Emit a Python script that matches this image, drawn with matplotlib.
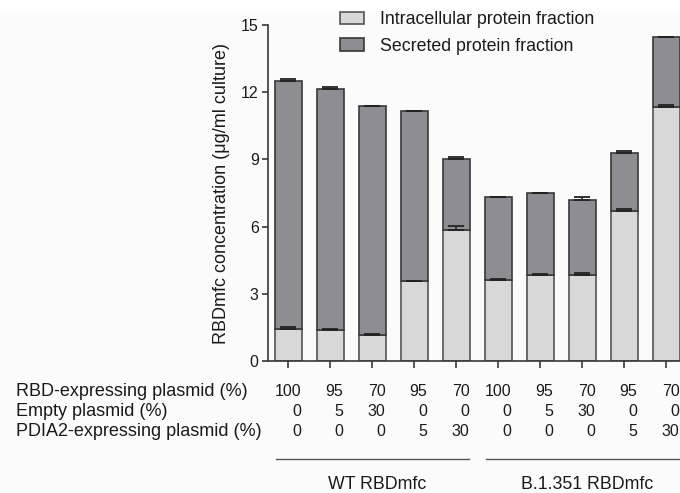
import matplotlib
matplotlib.use("Agg")
import matplotlib.pyplot as plt
import matplotlib.transforms as mtransforms
from matplotlib.patches import Rectangle
from matplotlib.lines import Line2D
import numpy as np

plt.rcParams['font.family'] = ['Liberation Sans', 'DejaVu Sans']

# ---- data ----
intracellular = [1.45, 1.38, 1.17, 3.56, 5.84, 3.62, 3.82, 3.82, 6.69, 11.33]
total = [12.51, 12.13, 11.38, 11.16, 9.00, 7.30, 7.48, 7.19, 9.27, 14.46]
secreted = [t - i for t, i in zip(total, intracellular)]
intra_err = [0.05, 0.04, 0.04, 0.03, 0.20, 0.03, 0.05, 0.09, 0.09, 0.08]
total_err = [0.06, 0.08, 0.02, 0.02, 0.09, 0.02, 0.02, 0.11, 0.12, 0.02]

rbd_pct = ["100", "95", "70", "95", "70", "100", "95", "70", "95", "70"]
empty_pct = ["0", "5", "30", "0", "0", "0", "5", "30", "0", "0"]
pdia_pct = ["0", "0", "0", "5", "30", "0", "0", "0", "5", "30"]
row_labels = ["RBD-expressing plasmid (%)", "Empty plasmid (%)", "PDIA2-expressing plasmid (%)"]
groups = ["WT RBDmfc", "B.1.351 RBDmfc"]
group_spans = [(0, 4), (5, 9)]
legend_labels = ["Intracellular protein fraction", "Secreted protein fraction"]
yticks = [0, 3, 6, 9, 12, 15]

light = "#d8d8d8"
dark = "#8e8d93"
edge = "#383838"

W, H = 680, 493
fig = plt.figure(figsize=(6.8, 4.93), dpi=100, facecolor="#fbfbfb")
ax = fig.add_axes([267.7 / W, 132 / H, (687.5 - 267.7) / W, 336 / H])
ax.set_facecolor("#fbfbfb")

x = np.arange(len(intracellular))
bw = 0.65
ax.bar(x, intracellular, bw, color=light, edgecolor="#555555", linewidth=1.2, zorder=2)
ax.bar(x, secreted, bw, bottom=intracellular, color=dark, edgecolor=edge, linewidth=1.2, zorder=2)

ax.errorbar(x, intracellular, yerr=[np.zeros(len(x)), intra_err], fmt="none",
            ecolor="#222222", elinewidth=1.1, capsize=6, capthick=1.3, zorder=3)
ax.errorbar(x, total, yerr=[np.zeros(len(x)), total_err], fmt="none",
            ecolor="#222222", elinewidth=1.1, capsize=6, capthick=1.3, zorder=3)

ax.set_xlim(-0.495, 9.5)
ax.set_ylim(0, 15)
ax.set_yticks(yticks)
ax.set_yticklabels([str(v) for v in yticks], fontsize=11.5)
ax.set_xticks(x)
ax.set_xticklabels([])
for s in ["top", "right"]:
    ax.spines[s].set_visible(False)
for s in ["left", "bottom"]:
    ax.spines[s].set_color(edge)
    ax.spines[s].set_linewidth(1.2)
ax.tick_params(axis="y", direction="out", length=4, width=1.2, color=edge, pad=2.5, labelcolor="#1a1a1a")
ax.tick_params(axis="x", direction="out", length=5, width=1.2, color=edge)

ax.set_ylabel("RBDmfc concentration (μg/ml culture)", fontsize=13, color="#1a1a1a")
ax.yaxis.set_label_coords(-(267.7 - 230) / (687.5 - 267.7), 0.5)

# legend
handles = [Rectangle((0, 0), 1, 1, facecolor=light, edgecolor="#555555", linewidth=1.2),
           Rectangle((0, 0), 1, 1, facecolor=dark, edgecolor=edge, linewidth=1.2)]
leg = ax.legend(handles, legend_labels, loc="upper left",
                bbox_to_anchor=(340 / W, 1 - 11 / H), bbox_transform=fig.transFigure,
                frameon=False, fontsize=12.8, handlelength=1.35, handleheight=0.7,
                handletextpad=0.9, labelspacing=0.55, borderpad=0, borderaxespad=0)
for t in leg.get_texts():
    t.set_color("#1a1a1a")

# table below
blend = mtransforms.blended_transform_factory(ax.transData, fig.transFigure)
offset = mtransforms.ScaledTranslation(13 / 100, 0, fig.dpi_scale_trans)
row_base = [395.5, 415.5, 435.5]
for r, (lab, vals) in enumerate(zip(row_labels, [rbd_pct, empty_pct, pdia_pct])):
    yb = 1 - row_base[r] / H
    fig.text(16 / W, yb, lab, fontsize=13, ha="left", va="baseline", color="#1a1a1a")
    for i, v in enumerate(vals):
        ax.text(x[i], yb, v, transform=blend + offset, fontsize=11.5, ha="right",
                va="baseline", color="#1a1a1a", clip_on=False)

# group lines and labels
for name, (a, b) in zip(groups, group_spans):
    yl = 1 - 459.3 / H
    ln = Line2D([a - 0.3, b + 0.3], [yl, yl], transform=blend, color="#555555",
                linewidth=1.0, clip_on=False)
    ax.add_artist(ln)
    ax.text((a + b) / 2 + 0.1, 1 - 489 / H, name, transform=blend, fontsize=12.8,
            ha="center", va="baseline", color="#1a1a1a", clip_on=False)

# white band on top of the crop
fig.add_artist(Rectangle((0, 1 - 11 / H), 1, 11 / H, transform=fig.transFigure,
                         facecolor="white", edgecolor="none", zorder=10))

fig.savefig("out.png", dpi=100, facecolor=fig.get_facecolor())
